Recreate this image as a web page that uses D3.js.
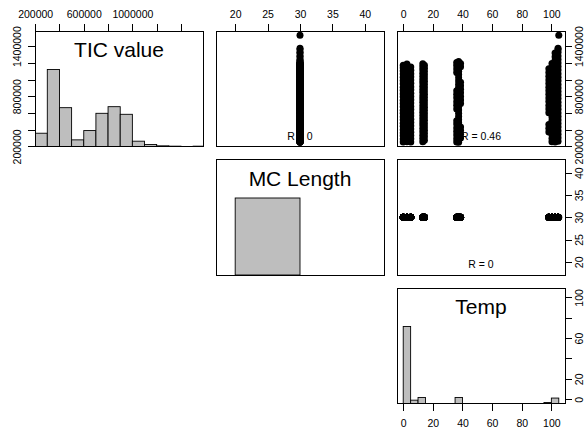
<!DOCTYPE html>
<html>
<head>
<meta charset="utf-8">
<script src="https://cdn.jsdelivr.net/npm/d3@7"></script>
<style>
  html, body { margin: 0; padding: 0; background: #fff; }
  svg { display: block; font-family: "Liberation Sans", Arial, Helvetica, sans-serif; }
</style>
</head>
<body>
<svg id="chart" width="584" height="433"></svg>
<script>
// ---- data -------------------------------------------------------------
const variableNames = ["TIC value", "MC Length", "Temp"];

// histogram bins and counts for each variable
const ticBreaks = [200000, 300000, 400000, 500000, 600000, 700000, 800000, 900000,
                   1000000, 1100000, 1200000, 1300000, 1400000, 1500000, 1600000];
const ticCounts = [40, 232, 117, 20, 48, 100, 120, 97, 16, 6, 2, 1, 0, 1];
const mcBreaks = [20, 30];
const mcCounts = [800];
const tempBreaks = [0, 5, 10, 15, 20, 25, 30, 35, 40, 45, 50, 55, 60, 65, 70, 75, 80, 85, 90, 95, 100, 105];
const tempCounts = [623, 27, 49, 0, 0, 0, 0, 49, 0, 0, 0, 0, 0, 0, 0, 0, 0, 0, 0, 8, 44];

// axis ticks and the tick labels that are printed
const ticTicks = [200000, 400000, 600000, 800000, 1000000, 1200000, 1400000];
const ticTopLabels = [200000, 600000, 1000000];
const ticSideLabels = [200000, 800000, 1400000];
const mcTicks = [20, 25, 30, 35, 40];
const mcLabels = [20, 25, 30, 35, 40];
const tempTicks = [0, 20, 40, 60, 80, 100];
const tempAxisLabels = [0, 20, 40, 60, 80, 100];
const tempSideLabels = [0, 20, 60, 100];

// correlation printed in each upper panel: [row, column, r]
const correlations = [[0, 1, 0], [0, 2, 0.46], [1, 2, 0]];

// every run used the same MC length
const mcLength = 30;

// runs by temperature: TIC value in thousands
const ticAt0    = [252, 288, 326, 361, 399, 441, 478, 519, 556, 598, 634, 676, 713, 752, 794, 831, 872, 909, 951, 988, 1027, 1066, 1104, 1141, 1172];
const ticAt2_5  = [257, 297, 338, 372, 414, 452, 493, 531, 570, 611, 649, 688, 729, 766, 807, 843, 884, 923, 962, 1003, 1041, 1079, 1118, 1157, 1186];
const ticAt5_1  = [254, 293, 331, 369, 408, 446, 486, 524, 563, 601, 641, 679, 719, 758, 797, 836, 877, 914, 955, 994, 1033, 1071, 1112, 1150];
const ticAt13_2 = [256, 296, 334, 375, 413, 455, 491, 532, 571, 608, 649, 687, 727, 766, 803, 844, 882, 921, 961, 999, 1038, 1077, 1116, 1154, 1188];
const ticAt14_3 = [274, 315, 353, 394, 433, 472, 512, 551, 590, 629, 668, 707, 746, 785, 824, 863, 902, 941, 980, 1019, 1058, 1097, 1135, 1170];
const ticAt36_1 = [253, 291, 335, 378, 421, 468, 507, 648, 692, 734, 781, 823, 866, 1083, 1127, 1168, 1204];
const ticAt37_4 = [250, 289, 327, 366, 404, 443, 482, 520, 559, 598, 636, 675, 713, 752, 791, 829, 868, 907, 945, 984, 1022, 1061, 1100, 1139, 1177, 1216];
const ticAt38_7 = [302, 344, 389, 431, 712, 755, 798, 841, 884, 927, 968, 1152, 1191];
const ticAt98_3 = [372, 418, 463, 604, 647, 691, 736, 779, 823, 866, 909, 953, 996, 1041, 1085, 1128];
const ticAt100_4 = [255, 296, 338, 381, 424, 466, 509, 552, 594, 637, 680, 722, 765, 808, 850, 893, 936, 978, 1021, 1064, 1106, 1149, 1192];
const ticAt102_5 = [252, 294, 337, 379, 422, 464, 507, 550, 592, 635, 677, 720, 763, 805, 848, 890, 933, 976, 1018, 1061, 1103, 1146, 1189, 1231, 1274, 1318];
const ticAt104_5 = [261, 303, 346, 388, 431, 474, 516, 559, 601, 644, 687, 729, 772, 814, 857, 900, 942, 985, 1027, 1070, 1113, 1155, 1198, 1240, 1283, 1326, 1361, 1376];
const ticAt105  = [1530];

const runGroups = [
  [0, ticAt0], [2.5, ticAt2_5], [5.1, ticAt5_1],
  [13.2, ticAt13_2], [14.3, ticAt14_3],
  [36.1, ticAt36_1], [37.4, ticAt37_4], [38.7, ticAt38_7],
  [98.3, ticAt98_3], [100.4, ticAt100_4], [102.5, ticAt102_5], [104.5, ticAt104_5],
  [105, ticAt105]
];

// ---- layout -----------------------------------------------------------
const runs = runGroups.flatMap(([temp, tics]) =>
  tics.map(k => ({ tic: k * 1000, mc: mcLength, temp: temp })));

const vars = [
  { name: variableNames[0], get: d => d.tic, breaks: ticBreaks, counts: ticCounts,
    ticks: ticTicks, xLabels: ticTopLabels, yLabels: ticSideLabels },
  { name: variableNames[1], get: d => d.mc, breaks: mcBreaks, counts: mcCounts,
    ticks: mcTicks, xLabels: mcLabels, yLabels: mcLabels },
  { name: variableNames[2], get: d => d.temp, breaks: tempBreaks, counts: tempCounts,
    ticks: tempTicks, xLabels: tempAxisLabels, yLabels: tempSideLabels }
];

const L = { left: 35, top: 31, w: 168, h: 115.5, gx: 13, gy: 13, tick: 7 };
const n = vars.length;
const colX = j => L.left + j * (L.w + L.gx);
const rowY = i => L.top + i * (L.h + L.gy);
const FONT = '"Liberation Sans", Arial, Helvetica, sans-serif';

// plotting range: data range widened by 4% on each side;
// a constant variable is first spread to +-40% of its value
function plotRange(values) {
  let [lo, hi] = d3.extent(values);
  if (lo === hi) { lo = lo * 0.6; hi = hi * 1.4; }
  const d = hi - lo;
  return [lo - 0.04 * d, hi + 0.04 * d];
}

const domains = vars.map(v => plotRange(runs.map(v.get)));
const xScales = vars.map((v, j) => d3.scaleLinear().domain(domains[j]).range([colX(j), colX(j) + L.w]));
const yScales = vars.map((v, i) => d3.scaleLinear().domain(domains[i]).range([rowY(i) + L.h, rowY(i)]));

const svg = d3.select("#chart");
const defs = svg.append("defs");

for (let i = 0; i < n; i++) {
  for (let j = i; j < n; j++) {
    const x0 = colX(j), y0 = rowY(i);
    const clipId = `clip-${i}-${j}`;
    defs.append("clipPath").attr("id", clipId)
      .append("rect").attr("x", x0).attr("y", y0).attr("width", L.w).attr("height", L.h);

    const panel = svg.append("g").attr("class", `panel p${i}${j}`);
    const inner = panel.append("g").attr("clip-path", `url(#${clipId})`);

    if (i === j) {
      // histogram on the diagonal, bar heights relative to the tallest bin
      const v = vars[i];
      const maxCount = d3.max(v.counts);
      const hy = d3.scaleLinear().domain([0, 1.5]).range([y0 + L.h, y0]);
      const bins = v.counts.map((c, k) => ({ x0: v.breaks[k], x1: v.breaks[k + 1], c }));
      inner.selectAll("rect.bar").data(bins).join("rect")
        .attr("class", "bar")
        .attr("x", d => xScales[j](d.x0))
        .attr("width", d => xScales[j](d.x1) - xScales[j](d.x0))
        .attr("y", d => hy(d.c / maxCount))
        .attr("height", d => hy(0) - hy(d.c / maxCount))
        .attr("fill", "#bebebe")
        .attr("stroke", "#000")
        .attr("stroke-width", 0.9);
      panel.append("text")
        .attr("x", x0 + L.w / 2)
        .attr("y", y0 + 26)
        .attr("text-anchor", "middle")
        .attr("font-size", 21)
        .attr("font-family", FONT)
        .attr("fill", "#000")
        .text(v.name);
    } else {
      // correlation first, then the points over it
      const r = correlations.find(c => c[0] === i && c[1] === j)[2];
      inner.append("text")
        .attr("x", x0 + L.w / 2)
        .attr("y", y0 + L.h - 7)
        .attr("text-anchor", "middle")
        .attr("font-size", 10.5)
        .attr("font-family", FONT)
        .attr("fill", "#000")
        .text(`R = ${r}`);
      inner.selectAll("circle").data(runs).join("circle")
        .attr("cx", d => xScales[j](vars[j].get(d)))
        .attr("cy", d => yScales[i](vars[i].get(d)))
        .attr("r", 3.5)
        .attr("fill", "#000");
    }

    panel.append("rect")
      .attr("x", x0).attr("y", y0).attr("width", L.w).attr("height", L.h)
      .attr("fill", "none").attr("stroke", "#000").attr("stroke-width", 1)
      .attr("shape-rendering", "crispEdges");
  }
}

// ---- axes -------------------------------------------------------------
function styleAxis(g) {
  g.select(".domain").remove();
  g.attr("font-size", 10.5).attr("font-family", FONT);
  g.selectAll("line").attr("shape-rendering", "crispEdges");
}
const fmt = labels => d => labels.includes(d) ? String(d) : "";

// top axis over every column
vars.forEach((v, j) => {
  svg.append("g")
    .attr("transform", `translate(0,${rowY(0)})`)
    .call(d3.axisTop(xScales[j]).tickValues(v.ticks).tickFormat(fmt(v.xLabels))
      .tickSize(L.tick).tickPadding(6.5))
    .call(styleAxis);
});

// bottom axis under the last column
svg.append("g")
  .attr("transform", `translate(0,${rowY(n - 1) + L.h})`)
  .call(d3.axisBottom(xScales[n - 1]).tickValues(vars[n - 1].ticks)
    .tickFormat(fmt(vars[n - 1].xLabels)).tickSize(L.tick).tickPadding(9))
  .call(styleAxis);

// left axis beside the first row, labels parallel to the axis
svg.append("g")
  .attr("transform", `translate(${colX(0)},0)`)
  .call(d3.axisLeft(yScales[0]).tickValues(vars[0].ticks)
    .tickFormat(fmt(vars[0].yLabels)).tickSize(L.tick))
  .call(styleAxis)
  .call(g => g.selectAll("text")
    .attr("x", null).attr("dy", null)
    .attr("text-anchor", "middle")
    .attr("transform", "translate(-14.3,0) rotate(-90)"));

// right axis beside every row, labels parallel to the axis
vars.forEach((v, i) => {
  svg.append("g")
    .attr("transform", `translate(${colX(n - 1) + L.w},0)`)
    .call(d3.axisRight(yScales[i]).tickValues(v.ticks)
      .tickFormat(fmt(v.yLabels)).tickSize(L.tick))
    .call(styleAxis)
    .call(g => g.selectAll("text")
      .attr("x", null).attr("dy", null)
      .attr("text-anchor", "middle")
      .attr("transform", "translate(18,0) rotate(-90)"));
});
</script>
</body>
</html>
